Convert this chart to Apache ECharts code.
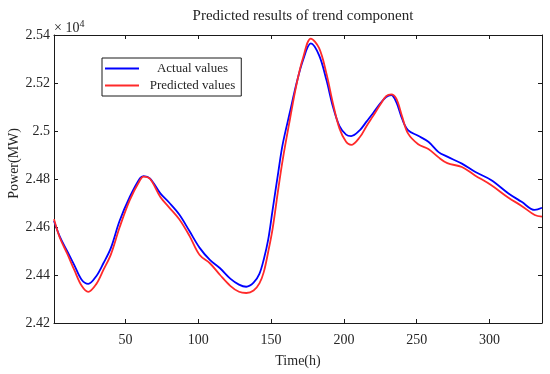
<!DOCTYPE html>
<html>
<head>
<meta charset="utf-8">
<script src="https://cdn.jsdelivr.net/npm/echarts@6/dist/echarts.min.js"></script>
<style>html,body{margin:0;padding:0;background:#fff}#c{width:550px;height:374px}</style>
</head>
<body>
<div id="c"></div>
<script>
// Time (h)
var times = [1,5,10,15,20,24.5,30,35,40,46,53,60,62.5,67,74,80,87,94,101,108,115,122,128,133,138,142,145,148,151,155,158,163,167.5,172,177.3,183,188,192.5,197,201.5,205,211,215.5,220,225,229,232.5,236,240,244,251,258,265,271,281,290,301,313,322,331,336];
// Power (MW)
var actualValues = [24625,24560,24500,24440,24380,24363,24395,24450,24512,24625,24725,24803,24812,24802,24740,24702,24652,24583,24513,24463,24428,24385,24360,24351,24368,24405,24465,24546,24668,24830,24945,25080,25199,25296,25365,25315,25213,25101,25020,24985,24979,25004,25039,25074,25115,25142,25150,25120,25050,25004,24980,24955,24912,24893,24864,24830,24796,24740,24705,24671,24680];
var predictedValues = [24632,24555,24490,24420,24355,24330,24362,24422,24485,24598,24712,24795,24810,24800,24725,24682,24632,24563,24483,24449,24400,24355,24330,24325,24335,24365,24412,24495,24590,24760,24880,25050,25195,25305,25385,25345,25240,25115,25010,24955,24942,24975,25020,25062,25110,25145,25153,25135,25060,24990,24945,24925,24890,24866,24850,24815,24775,24722,24688,24650,24643];
var xTicks = [50,100,150,200,250,300];
var seriesNames = ['Actual values','Predicted values'];

var font = 'Liberation Serif';
var axisColor = '#1a1a1a';
var textColor = '#262626';

function pairs(vals){ return times.map(function(t,i){ return [t, vals[i]]; }); }

var chart = echarts.init(document.getElementById('c'), null, {renderer:'canvas'});
var xCommon = {
  type:'value', min:1, max:336, gridIndex:0,
  splitLine:{show:false},
  axisLine:{show:true, onZero:false, lineStyle:{color:axisColor, width:1}},
  axisTick:{show:true, inside:true, length:4, customValues:xTicks, lineStyle:{color:axisColor, width:1}}
};
var yCommon = {
  type:'value', min:24200, max:25400, interval:200, gridIndex:0,
  splitLine:{show:false},
  axisLine:{show:true, onZero:false, lineStyle:{color:axisColor, width:1}},
  axisTick:{show:true, inside:true, length:4, lineStyle:{color:axisColor, width:1}}
};
chart.setOption({
  animation:false,
  backgroundColor:'#fff',
  title:{
    text:'Predicted results of trend component',
    left:298, top:4, textAlign:'center',
    textStyle:{fontFamily:font, fontSize:15, fontWeight:'normal', color:textColor}
  },
  grid:{left:54, right:8, top:35, bottom:51, containLabel:false},
  legend:{
    data:seriesNames,
    orient:'vertical',
    left:102, top:58,
    padding:[4,6,4,3],
    itemGap:4,
    icon:'rect',
    itemWidth:34, itemHeight:2,
    borderColor:'#1a1a1a', borderWidth:1, backgroundColor:'#fff',
    formatter:function(n){ return '{t|' + n + '}'; },
    textStyle:{fontFamily:font, fontSize:13, color:textColor,
      rich:{t:{width:97, align:'center', fontFamily:font, fontSize:13, color:textColor}}}
  },
  xAxis:[
    Object.assign({}, xCommon, {
      position:'bottom',
      name:'Time(h)', nameLocation:'middle', nameGap:31,
      nameTextStyle:{fontFamily:font, fontSize:14, color:textColor},
      axisLabel:{show:true, customValues:xTicks, margin:10, fontFamily:font, fontSize:14, color:textColor}
    }),
    Object.assign({}, xCommon, {position:'top', axisLabel:{show:false}})
  ],
  yAxis:[
    Object.assign({}, yCommon, {
      position:'left',
      axisLabel:{show:true, margin:4, fontFamily:font, fontSize:14, color:textColor,
        formatter:function(v){ return String(+(v/10000).toFixed(2)); }}
    }),
    Object.assign({}, yCommon, {position:'right', axisLabel:{show:false}})
  ],
  graphic:[
    {type:'text', left:7, top:128, rotation:Math.PI/2, style:{text:'Power(MW)', fontFamily:font, fontSize:14, fill:textColor}},
    {type:'text', left:54, top:19, style:{text:'{a|× 10}{b|4}', rich:{
      a:{fontFamily:font, fontSize:14, fill:textColor, color:textColor},
      b:{fontFamily:font, fontSize:10, fill:textColor, color:textColor, verticalAlign:'top', padding:[0,0,9,0]}
    }}}
  ],
  series:[
    {name:seriesNames[0], type:'line', xAxisIndex:0, yAxisIndex:0, data:pairs(actualValues),
      smooth:0.35, symbol:'none', lineStyle:{color:'#0000ff', width:1.8}, itemStyle:{color:'#0000ff'}},
    {name:seriesNames[1], type:'line', xAxisIndex:0, yAxisIndex:0, data:pairs(predictedValues),
      smooth:0.35, symbol:'none', lineStyle:{color:'#ff2a2a', width:1.8}, itemStyle:{color:'#ff2a2a'}}
  ]
});
</script>
</body>
</html>
